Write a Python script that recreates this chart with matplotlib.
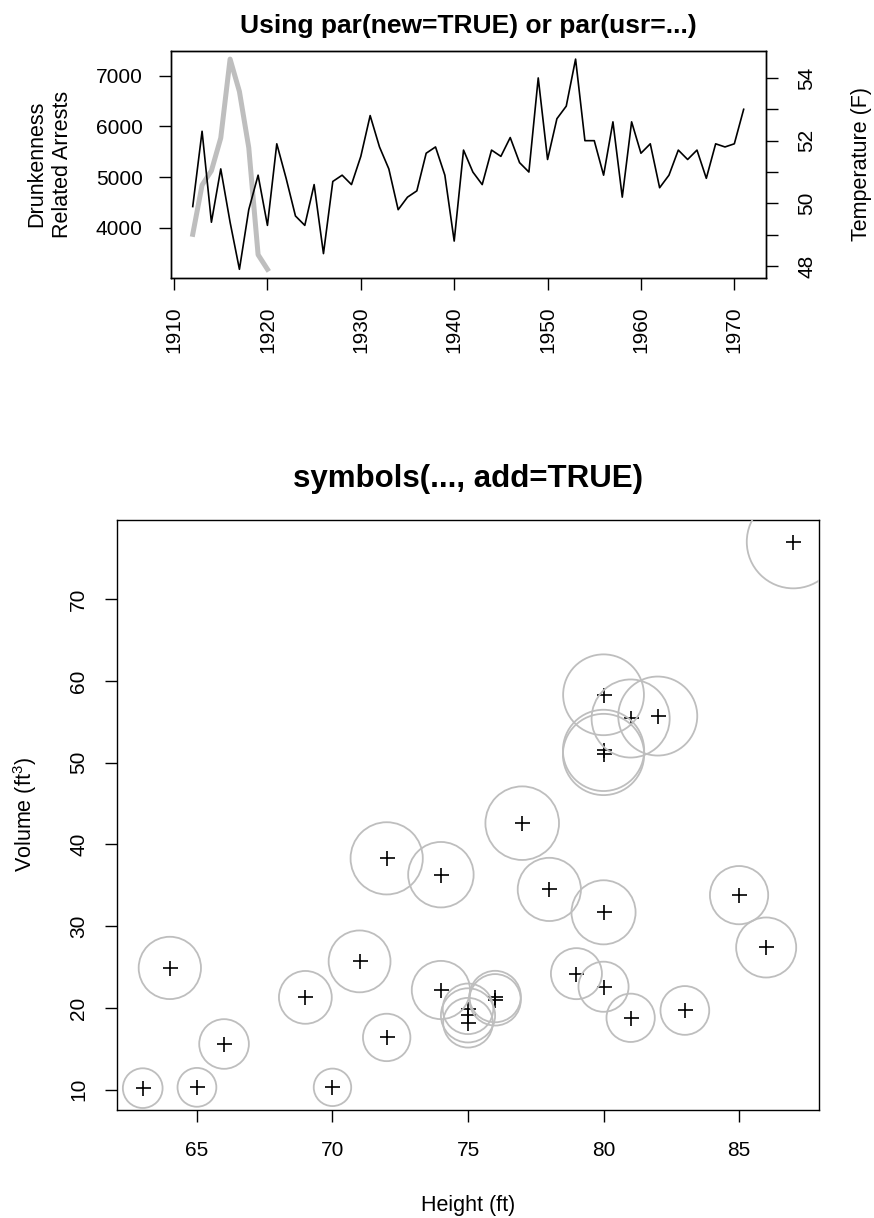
import numpy as np
import matplotlib
matplotlib.use("Agg")
import matplotlib.pyplot as plt

plt.rcParams['font.family'] = ['Liberation Sans', 'DejaVu Sans']
plt.rcParams['mathtext.fontset'] = 'custom'
plt.rcParams['mathtext.rm'] = 'Liberation Sans'

# drunkenness related arrests, only 1912-1920 recorded
drunk_years = np.arange(1912, 1921)
drunk = [3875, 4846, 5128, 5773, 7327, 6688, 5582, 3473, 3186]

# New Haven mean annual temperature (F), 1912-1971
temp_years = np.arange(1912, 1972)
nhtemp = [49.9, 52.3, 49.4, 51.1, 49.4, 47.9, 49.8, 50.9, 49.3, 51.9,
          50.8, 49.6, 49.3, 50.6, 48.4, 50.7, 50.9, 50.6, 51.5, 52.8,
          51.8, 51.1, 49.8, 50.2, 50.4, 51.6, 51.8, 50.9, 48.8, 51.7,
          51.0, 50.6, 51.7, 51.5, 52.1, 51.3, 51.0, 54.0, 51.4, 52.7,
          53.1, 54.6, 52.0, 52.0, 50.9, 52.6, 50.2, 52.6, 51.6, 51.9,
          50.5, 50.9, 51.7, 51.4, 51.7, 50.8, 51.9, 51.8, 51.9, 53.0]

# trees: girth (in), height (ft), volume (ft^3)
girth = [8.3, 8.6, 8.8, 10.5, 10.7, 10.8, 11.0, 11.0, 11.1, 11.2, 11.3,
         11.4, 11.4, 11.7, 12.0, 12.9, 12.9, 13.3, 13.7, 13.8, 14.0, 14.2,
         14.5, 16.0, 16.3, 17.3, 17.5, 17.9, 18.0, 18.0, 20.6]
height = [70, 65, 63, 72, 81, 83, 66, 75, 80, 75, 79, 76, 76, 69, 75, 74,
          85, 86, 71, 64, 78, 80, 74, 72, 77, 81, 82, 80, 80, 80, 87]
volume = [10.3, 10.3, 10.2, 16.4, 18.8, 19.7, 15.6, 18.2, 22.6, 19.9, 24.2,
          21.0, 21.4, 21.3, 19.1, 22.2, 33.8, 27.4, 25.7, 24.9, 34.5, 31.7,
          36.3, 38.3, 42.6, 55.4, 55.7, 58.3, 51.5, 51.0, 77.0]

W, H = 874, 1218
DPI = 100
PX = 72 / DPI  # points per pixel
FS = 15
GREY = '#bebebe'


def rlim(vals):
    lo, hi = min(vals), max(vals)
    d = 0.04 * (hi - lo)
    return lo - d, hi + d


def style(ax):
    for s in ax.spines.values():
        s.set_linewidth(1.0)
    ax.tick_params(direction='out', length=12 * PX, width=1.0, labelsize=FS)


fig = plt.figure(figsize=(W / DPI, H / DPI), dpi=DPI)

# ---- top panel: two series sharing x, separate y scales ----
ax1 = fig.add_axes([170.7 / W, 1 - 277.7 / H, 595 / W, 227 / H])
ax1.plot(drunk_years, drunk, color=GREY, lw=3.6, solid_joinstyle='round')
ax1.set_xlim(rlim(temp_years))
ax1.set_ylim(rlim(drunk))
ax1.set_xticks(range(1910, 1971, 10))
ax1.set_yticks([4000, 5000, 6000, 7000])
style(ax1)
ax1.tick_params(axis='x', labelrotation=90, pad=12)
ax1.tick_params(axis='y', pad=11.5)

ax2 = ax1.twinx()
ax2.plot(temp_years, nhtemp, color='black', lw=1.2)
ax2.set_ylim(rlim(nhtemp))
ticks = list(range(48, 55))
ax2.set_yticks(ticks)
ax2.set_yticklabels([str(t) if t % 2 == 0 else '' for t in ticks])
style(ax2)
ax2.tick_params(axis='y', labelrotation=90, pad=14)
for lab in ax2.get_yticklabels():
    lab.set_va('center')

fig.text(468 / W, 1 - 33.3 / H, 'Using par(new=TRUE) or par(usr=...)',
         ha='center', va='baseline', fontsize=19, fontweight='bold')
fig.text(50 / W, 1 - 164 / H, 'Drunkenness\nRelated Arrests', rotation=90,
         ha='center', va='center', fontsize=FS + 0.5, linespacing=1.3)
fig.text(862 / W, 1 - 164 / H, 'Temperature (F)', rotation=90,
         ha='center', va='center', fontsize=FS + 0.5)

# ---- bottom panel: circles sized by girth ----
ax3 = fig.add_axes([116.7 / W, 1 - 1110 / H, 702.6 / W, 590 / H])
ax3.plot(height, volume, linestyle='none', marker='+', color='black',
         markersize=15 * PX, markeredgewidth=1.2, zorder=2)
radius_px = 46.5 * np.array(girth) / max(girth)
ax3.scatter(height, volume, s=(2 * radius_px * PX) ** 2, marker='o',
            facecolors='none', edgecolors=GREY, linewidths=1.3, zorder=3)
ax3.set_xlim(rlim(height))
ax3.set_ylim(rlim(volume))
ax3.set_xticks([65, 70, 75, 80, 85])
ax3.set_yticks(range(10, 71, 10))
style(ax3)
ax3.tick_params(axis='x', pad=13.5)
ax3.tick_params(axis='y', labelrotation=90, pad=12)
for lab in ax3.get_yticklabels():
    lab.set_va('center')

fig.text(468 / W, 1 - 486.7 / H, 'symbols(..., add=TRUE)',
         ha='center', va='baseline', fontsize=22.5, fontweight='bold')
fig.text(25 / W, 1 - 815 / H, r'Volume (ft$^3$)', rotation=90,
         ha='center', va='center', fontsize=FS + 0.5)
fig.text(468 / W, 1 - 1205 / H, 'Height (ft)',
         ha='center', va='center', fontsize=FS + 0.5)

fig.savefig('out.png', dpi=DPI)
